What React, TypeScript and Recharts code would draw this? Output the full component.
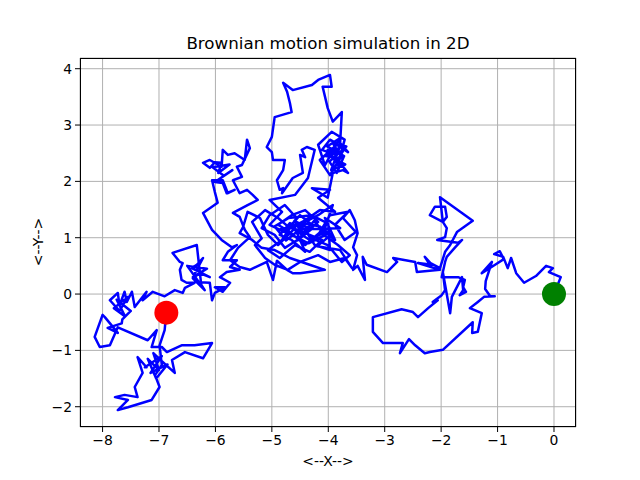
import React from 'react';
import { ComposedChart, Line, Scatter, XAxis, YAxis, CartesianGrid } from 'recharts';

// Brownian path in time order (start -> end)
const rightLobe: [number, number][] = [
    [0, 0], [0.12, 0.30], [-0.09, 0.39], [-0.02, 0.46], [-0.14, 0.50], [-0.32, 0.32], [-0.53, 0.20],
    [-0.67, 0.37], [-0.76, 0.64], [-0.82, 0.46], [-0.90, 0.66], [-1.06, 0.71], [-0.96, 0.76], [-0.89, 0.62],
    [-1.03, 0.53], [-1.28, 0.37], [-1.10, 0.57], [-1.21, 0.23], [-1.22, 0.09], [-1.13, -0.04], [-1.05, -0.04],
    [-1.24, -0.05], [-1.35, -0.14], [-1.49, -0.25], [-1.28, -0.34], [-1.35, -0.67], [-1.45, -0.69], [-1.44, -0.50],
    [-1.97, -0.99], [-2.20, -1.03], [-2.29, -1.05], [-2.46, -0.91], [-2.57, -0.80], [-2.73, -1.05], [-2.68, -0.87],
    [-3.03, -0.87], [-3.21, -0.67], [-3.21, -0.41], [-2.70, -0.27], [-2.50, -0.32], [-2.41, -0.41], [-2.23, -0.25],
    [-2.06, -0.11], [-2.15, -0.14], [-1.99, -0.02], [-1.93, 0.07], [-1.97, 0.39], [-1.84, -0.34], [-1.81, -0.05],
    [-1.63, 0.30], [-1.61, 0.07], [-1.67, -0.02], [-1.56, 0.04], [-1.61, 0.12], [-1.58, 0.25], [-1.70, 0.30],
    [-1.99, 0.30], [-1.93, 0.57], [-1.90, 0.66], [-1.76, 0.82], [-1.63, 0.96], [-1.70, 0.91], [-2.07, 0.96],
    [-1.93, 1.01], [-1.90, 1.17], [-1.97, 1.28], [-1.90, 1.37], [-1.93, 1.55], [-2.11, 1.55], [-2.20, 1.40],
    [-1.97, 1.28], [-2.02, 1.72], [-1.44, 1.30], [-1.72, 1.10], [-1.84, 0.87], [-1.93, 0.75], [-2.02, 0.46],
    [-2.23, 0.57], [-2.29, 0.66], [-2.16, 0.52], [-2.41, 0.55], [-2.02, 0.43], [-2.43, 0.39], [-2.46, 0.57],
    [-2.85, 0.64], [-2.78, 0.57], [-2.96, 0.39], [-3.32, 0.52], [-3.39, 0.66], [-3.35, 0.25], [-3.48, 0.50],
    [-3.56, 0.43], [-3.49, 0.69], [-3.56, 0.83], [-3.48, 1.08], [-3.53, 1.31], [-3.62, 1.49],
];

const centerCluster: [number, number][] = [
    [-3.74, 1.35], [-3.51, 1.10], [-3.71, 0.96], [-3.88, 1.23], [-3.65, 1.46], [-3.97, 1.40], [-4.15, 1.10],
    [-3.83, 0.87], [-3.62, 0.69], [-3.76, 0.57], [-4.01, 0.87], [-4.29, 0.99], [-4.50, 1.23], [-4.18, 1.40],
    [-3.92, 1.58], [-4.06, 1.17], [-4.41, 0.87], [-4.68, 1.10], [-4.89, 1.23], [-4.65, 1.40], [-4.41, 1.49],
    [-4.18, 1.28], [-4.50, 0.99], [-4.77, 0.82], [-4.95, 1.05], [-5.18, 1.17], [-5.04, 1.40], [-4.77, 1.58],
    [-4.56, 1.35], [-4.82, 0.96], [-5.07, 0.78], [-4.86, 0.64], [-4.59, 0.87], [-4.33, 0.75], [-4.11, 0.96],
    [-4.70, 1.20], [-4.45, 1.05], [-4.60, 1.30], [-4.30, 1.15], [-4.55, 0.95], [-4.25, 1.30], [-4.05, 1.05],
    [-4.35, 0.90], [-4.65, 1.05], [-4.85, 1.15], [-4.40, 1.25], [-4.15, 1.20], [-3.95, 1.05], [-4.20, 0.85],
    [-3.79, 0.78], [-3.58, 0.46], [-3.71, 0.64], [-3.97, 0.57], [-4.18, 0.69], [-4.50, 0.57], [-4.72, 0.43],
    [-4.95, 0.52], [-5.12, 0.64], [-5.30, 0.87], [-5.18, 0.99], [-5.35, 1.28], [-5.12, 1.49], [-4.89, 1.35],
    [-4.68, 1.17], [-4.41, 1.31], [-4.15, 1.49], [-3.88, 1.46], [-4.18, 1.71], [-3.97, 1.85], [-4.29, 1.88],
    [-4.01, 1.71], [-3.92, 2.15],
];

const topLoop: [number, number][] = [
    [-3.74, 2.20], [-3.65, 2.15], [-3.83, 2.38], [-3.71, 2.59], [-3.97, 2.74], [-4.11, 2.56], [-3.88, 2.47],
    [-3.90, 2.40], [-3.70, 2.30], [-3.95, 2.20], [-3.80, 2.60], [-4.05, 2.45], [-3.75, 2.40], [-3.92, 2.68],
    [-3.68, 2.62], [-3.98, 2.35], [-3.85, 2.15], [-3.72, 2.45], [-4.02, 2.62],
    [-3.79, 2.77], [-4.06, 2.29], [-4.18, 2.65], [-3.94, 2.88], [-3.71, 2.74], [-3.83, 2.29], [-4.01, 2.56],
    [-3.76, 2.47], [-3.97, 2.11], [-4.15, 2.38], [-3.85, 2.65], [-3.65, 2.52], [-3.79, 2.68], [-3.76, 3.23],
    [-3.92, 3.06], [-4.01, 3.30], [-4.10, 3.68], [-3.94, 3.68], [-3.97, 3.89], [-4.18, 3.80], [-4.29, 3.71],
    [-4.63, 3.62], [-4.80, 3.75], [-4.73, 3.59], [-4.68, 3.39], [-4.65, 3.23], [-4.95, 3.14], [-5.00, 2.79],
    [-5.09, 2.61], [-5.00, 2.52], [-4.98, 2.38], [-4.77, 2.38], [-4.80, 2.20], [-4.91, 2.02], [-4.86, 1.85],
    [-4.80, 1.88], [-4.82, 1.79], [-4.63, 2.06], [-4.45, 2.15], [-4.50, 2.47], [-4.41, 2.43], [-4.47, 2.56],
    [-4.38, 2.61], [-4.24, 2.56],
];

const centerReturn: [number, number][] = [
    [-4.36, 2.06], [-4.59, 1.76], [-5.04, 1.67], [-4.82, 1.46], [-5.04, 1.23], [-4.77, 1.10], [-4.50, 1.40],
    [-4.29, 1.23], [-4.54, 1.10], [-4.33, 0.96], [-4.06, 1.10], [-3.88, 0.96], [-4.06, 1.35], [-3.79, 1.17],
    [-4.50, 1.15], [-4.75, 0.95], [-4.95, 1.20], [-4.70, 1.35], [-4.30, 1.40], [-4.00, 1.25],
    [-3.97, 0.78], [-4.24, 0.87], [-4.41, 1.14], [-4.68, 1.26], [-4.86, 1.05], [-4.65, 0.96], [-4.41, 0.75],
    [-4.59, 1.17], [-4.89, 0.87], [-5.07, 1.05], [-5.21, 1.35], [-5.43, 1.46], [-5.51, 1.19], [-5.57, 1.08],
    [-5.35, 0.96], [-5.18, 0.82], [-4.95, 0.78], [-4.68, 0.64], [-4.33, 0.52], [-4.06, 0.43], [-4.50, 0.37],
    [-4.63, 0.37], [-4.73, 0.43], [-4.91, 0.59], [-4.98, 0.25], [-5.09, 0.57], [-5.39, 0.43], [-5.57, 0.48],
    [-5.74, 0.60],
];

const upperLeft: [number, number][] = [
    [-5.60, 0.82], [-5.39, 1.01], [-5.48, 1.14], [-5.57, 1.37], [-5.69, 1.44], [-5.43, 1.58], [-5.25, 1.67],
    [-5.34, 1.76], [-5.44, 1.85], [-5.57, 1.79], [-5.69, 2.02], [-5.53, 2.08], [-5.62, 2.26], [-5.53, 2.29],
    [-5.39, 2.59], [-5.44, 2.74], [-5.48, 2.38], [-5.66, 2.50], [-5.78, 2.47], [-5.87, 2.56], [-5.89, 2.26],
    [-6.10, 2.38], [-6.22, 2.33], [-6.10, 2.24], [-6.01, 2.34], [-5.89, 2.33], [-5.95, 2.15], [-5.75, 2.30],
    [-6.05, 2.25], [-5.85, 2.10], [-5.70, 2.20], [-6.01, 1.99], [-5.87, 1.97],
    [-5.80, 1.79], [-5.66, 1.85], [-5.78, 1.79], [-5.87, 2.02], [-6.06, 2.02], [-6.01, 1.81], [-5.96, 1.62],
    [-6.22, 1.44], [-6.06, 1.14], [-5.89, 0.96],
];

const lowerLeft: [number, number][] = [
    [-5.71, 0.83], [-5.62, 0.87], [-5.78, 0.75], [-5.87, 0.60], [-5.62, 0.60], [-5.74, 0.48], [-5.57, 0.43],
    [-5.80, 0.39], [-5.92, 0.30], [-5.74, 0.20], [-5.87, 0.04], [-6.01, 0.12], [-5.83, 0.12], [-6.01, 0.02],
    [-6.06, -0.11], [-6.10, 0.20], [-6.28, 0.21], [-6.19, 0.07], [-6.40, 0.28], [-6.28, 0.37], [-6.10, 0.30],
    [-6.42, 0.46], [-6.33, 0.52], [-6.22, 0.64], [-6.40, 0.30], [-6.15, 0.45], [-6.50, 0.50], [-6.25, 0.15],
    [-6.33, 0.87], [-6.76, 0.73], [-6.63, 0.57], [-6.58, 0.55],
    [-6.63, 0.43], [-6.60, 0.25], [-6.51, 0.20], [-6.37, 0.20], [-6.54, 0.11], [-6.58, 0.02], [-6.72, 0.07],
    [-6.90, -0.04],
];

const farLeft: [number, number][] = [
    [-7.11, 0.04], [-7.29, -0.11], [-7.22, 0.04], [-7.43, -0.23], [-7.48, 0.04], [-7.57, -0.14], [-7.61, 0.04],
    [-7.70, -0.20], [-7.73, 0.02], [-7.87, -0.11], [-7.70, -0.30], [-7.55, -0.05], [-7.80, -0.25], [-7.60, -0.40],
    [-7.75, -0.10], [-7.50, -0.30], [-7.65, -0.45],
    [-7.66, -0.52], [-7.91, -0.60], [-7.73, -0.69], [-7.96, -0.41],
    [-8.00, -0.37], [-8.14, -0.76], [-8.05, -0.94], [-7.87, -0.91], [-7.73, -0.59], [-7.20, -0.82], [-7.04, -0.64],
    [-7.13, -0.94], [-6.95, -0.94], [-6.86, -1.03], [-6.60, -0.91], [-6.37, -0.91], [-6.06, -0.87], [-6.22, -1.14],
    [-6.54, -1.03], [-6.77, -1.17], [-6.72, -1.40], [-6.93, -1.21], [-7.10, -1.05], [-7.00, -1.35], [-7.20, -1.15],
    [-7.05, -1.50], [-6.85, -1.25], [-7.15, -1.40], [-6.95, -1.10], [-7.25, -1.30],
    [-7.22, -1.30], [-7.38, -1.12], [-7.29, -1.40],
    [-7.43, -1.65], [-7.38, -1.83], [-7.61, -1.79], [-7.78, -1.83], [-7.55, -1.88], [-7.73, -2.06], [-7.55, -2.01],
    [-7.13, -1.88], [-6.99, -1.65], [-7.07, -1.44], [-6.95, -1.26], [-6.99, -0.91], [-6.90, -0.64], [-6.87, -0.33],
];

const startPoint = { x: 0, y: 0 };
const endPoint = { x: -6.87, y: -0.33 };

const xTicks = [-8, -7, -6, -5, -4, -3, -2, -1, 0];
const yTicks = [-2, -1, 0, 1, 2, 3, 4];

const path = [...rightLobe, ...centerCluster, ...topLoop, ...centerReturn, ...upperLeft, ...lowerLeft, ...farLeft]
    .map(([x, y]) => ({ x, y }));

const fmt = (v: number) => (v < 0 ? `\u2212${-v}` : `${v}`);
const font = 'DejaVu Sans, sans-serif';
const tick = { fill: '#000', fontSize: 13.9, fontFamily: font };

export default function App() {
    return (
        <div style={{ position: 'absolute', left: 0, top: 0, width: 640, height: 480, background: '#fff', fontFamily: font }}>
            <div style={{ position: 'absolute', left: 80, width: 496, top: 33, textAlign: 'center', fontSize: 16.7 }}>
                Brownian motion simulation in 2D
            </div>
            <ComposedChart width={640} height={480} data={path} margin={{ top: 58, right: 64, bottom: 23, left: 30 }}>
                <CartesianGrid stroke="#b0b0b0" strokeWidth={1} />
                <XAxis type="number" dataKey="x" domain={[-8.4, 0.39]} allowDataOverflow ticks={xTicks}
                    tickFormatter={fmt} tick={tick} tickSize={5} tickMargin={3} height={30}
                    axisLine={false} tickLine={{ stroke: '#000' }} />
                <YAxis type="number" dataKey="y" domain={[-2.36, 4.19]} allowDataOverflow ticks={yTicks}
                    tickFormatter={fmt} tick={tick} tickSize={5} tickMargin={3} width={50}
                    axisLine={false} tickLine={{ stroke: '#000' }} />
                <Line type="linear" dataKey="y" stroke="#0000ff" strokeWidth={2.5} dot={false}
                    activeDot={false} isAnimationActive={false} strokeLinejoin="round" />
                <Scatter data={[startPoint]} dataKey="y" isAnimationActive={false}
                    shape={(p: any) => <circle cx={p.cx} cy={p.cy} r={12} fill="#008000" />} />
                <Scatter data={[endPoint]} dataKey="y" isAnimationActive={false}
                    shape={(p: any) => <circle cx={p.cx} cy={p.cy} r={12} fill="#ff0000" />} />
            </ComposedChart>
            <div style={{ position: 'absolute', left: 80, top: 58, width: 494, height: 367, border: '1px solid #000', pointerEvents: 'none' }} />
            <div style={{ position: 'absolute', left: 80, width: 496, top: 453, textAlign: 'center', fontSize: 13.9 }}>
                {'<--X-->'}
            </div>
            <div style={{ position: 'absolute', left: 38, top: 242, fontSize: 13.9, transform: 'translate(-50%, -50%) rotate(-90deg)', whiteSpace: 'nowrap' }}>
                {'<--Y-->'}
            </div>
        </div>
    );
}
